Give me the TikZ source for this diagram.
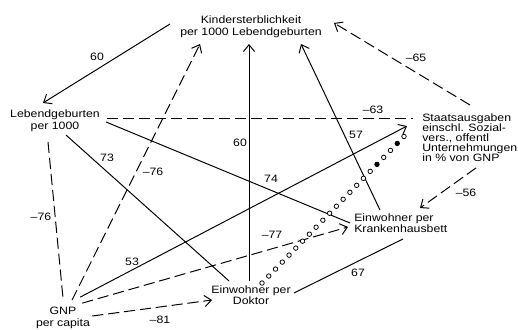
\documentclass[tikz,border=0pt]{standalone}
\usepackage{fontspec}
\usepackage{tikz}
\usetikzlibrary{arrows.meta, calc}
\newfontfamily\diafont[FakeStretch=1.15, Ligatures=TeX]{Liberation Sans}

\begin{document}
\begin{tikzpicture}[
    x=0.025cm, y=-0.025cm,
    lbl/.style={inner sep=0pt, align=center, font=\diafont\fontsize{7.6}{8.2}\selectfont},
    num/.style={inner sep=0pt, font=\diafont\fontsize{7.6}{8.2}\selectfont},
    ln/.style={line width=0.7pt},
    arr/.style={ln, -{Straight Barb[length=1.7mm, width=2.8mm]}},
    dsh/.style={ln, dash pattern=on 2.8mm off 1.2mm},
    ring/.style={line width=0.55pt, fill=white}
]
\useasboundingbox (0,0) rectangle (518,329);

% Variablen
\node[lbl] (kinder) at (251,27) {Kindersterblichkeit\\per 1000 Lebendgeburten};
\node[lbl] (lebend) at (55,121) {Lebendgeburten\\per 1000};
\node[lbl, align=left, anchor=north west, font=\diafont\fontsize{7.6}{7.2}\selectfont] (staats) at (422,113) {Staatsausgaben\\einschl. Sozial-\\vers., offentl\\Unternehmungen\\in \% von GNP};
\node[lbl, align=left, anchor=west] (kranken) at (354,223) {Einwohner per\\Krankenhausbett};
\node[lbl] (doktor) at (251,295) {Einwohner per\\Doktor};
\node[lbl] (gnp) at (63,318) {GNP\\per capita};

% Pfeile zur Kindersterblichkeit
\draw[arr] ([shift={(-10,-3)}]kinder.west) -- ([shift={(-12,-7)}]lebend.north);
\draw[arr, dsh] ([shift={(9,-7)}]gnp.north) -- ([shift={(20,6)}]kinder.south west);
\draw[arr] ([shift={(-2,-4)}]doktor.north) -- ([shift={(-2,6)}]kinder.south);
\draw[arr] ([shift={(26,-3)}]kranken.north west) -- ([shift={(-21,6)}]kinder.south east);
\draw[arr, dsh] ([shift={(48,-8)}]staats.north west) -- ([shift={(12,-4)}]kinder.east);

% Lebendgeburten
\draw[dsh] ([shift={(7,-3)}]lebend.east) -- ([shift={(-9,5)}]staats.north west);
\draw[ln] ([shift={(6,1)}]lebend.east) -- ([shift={(-4,0)}]kranken.west);
\draw[ln] ([shift={(11,3)}]lebend.south) -- ([shift={(18,-4)}]doktor.north west);
\draw[dsh] ([shift={(-7,10)}]lebend.south) -- ([shift={(0,-9)}]gnp.north);

% GNP
\draw[arr] ([shift={(-10,-10)}]gnp.north east) -- ([shift={(-15,13)}]staats.north west);
\draw[arr, dsh] ([shift={(-8,-4)}]gnp.north east) -- ([shift={(-6,4)}]kranken.west);
\draw[arr, dsh] ([shift={(2,-2)}]gnp.east) -- ([shift={(1,5)}]doktor.west);

% Staatsausgaben, Doktor, Krankenhausbett
\draw[arr, dsh] ([shift={(54,6)}]staats.south west) -- ([shift={(66,-5)}]kranken.north west);
\draw[ln] ([shift={(3,-2)}]doktor.east) -- ([shift={(49,6)}]kranken.south west);

% Kreiskette Doktor -- Staatsausgaben
\coordinate (cs) at ([shift={(11,-2)}]doktor.north);
\coordinate (ce) at ([shift={(-18,-1)}]staats.west);
\foreach \i in {0,...,21}
    \draw[ring] ($(cs)!\i/21!(ce)$) circle[radius=1.6pt];
\foreach \i in {17,20}
    \fill ($(cs)!\i/21!(ce)$) circle[radius=1.6pt];

% Koeffizienten
\node[num] (k1) at (97,57) {60};
\node[num] (k2) at (153,172) {--76};
\node[num] (k3) at (240,143) {60};
\node[num] (k4) at (356,135) {57};
\node[num] (k5) at (416,58) {--65};
\node[num] (k6) at (373,110) {--63};
\node[num] (k7) at (271,179) {74};
\node[num] (k8) at (107,158) {73};
\node[num] (k9) at (41,217) {--76};
\node[num] (k10) at (132,262) {53};
\node[num] (k11) at (272,235) {--77};
\node[num] (k12) at (160,320) {--81};
\node[num] (k13) at (466,193) {--56};
\node[num] (k14) at (358,273) {67};
\end{tikzpicture}
\end{document}
